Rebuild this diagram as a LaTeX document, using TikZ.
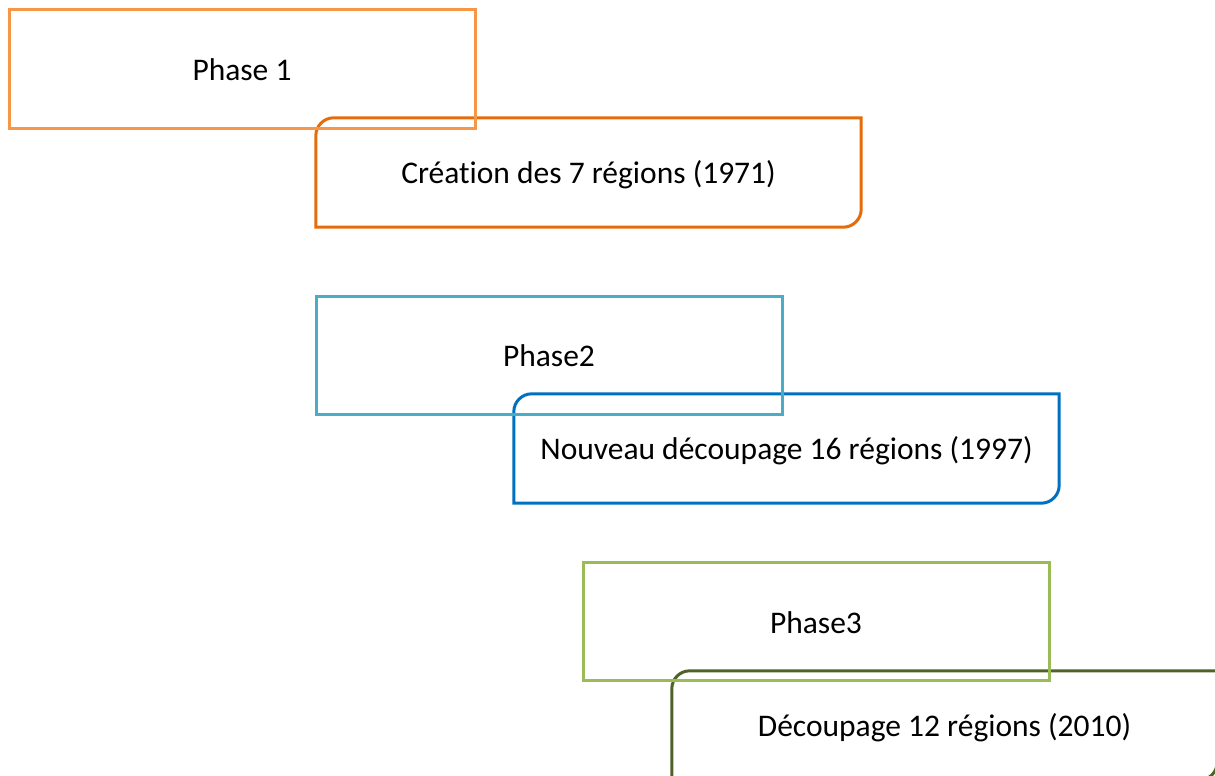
\documentclass[tikz,border=0pt]{standalone}
\usepackage{fontspec}
\setmainfont{Carlito}[Ligatures=NoCommon]
\definecolor{cPhaseA}{HTML}{F79646}
\definecolor{cBoxA}{HTML}{E46C0A}
\definecolor{cPhaseB}{HTML}{4BACC6}
\definecolor{cBoxB}{HTML}{0070C0}
\definecolor{cPhaseC}{HTML}{9BBB59}
\definecolor{cBoxC}{HTML}{4F6228}
\begin{document}
\begin{tikzpicture}[
  every node/.style={font=\fontsize{31.5}{36}\selectfont, text=black, inner sep=0pt},
  phasebox/.style={draw, line width=3pt, minimum width=466pt, minimum height=118pt},
  eventbox/.style={minimum width=545pt, minimum height=109pt},
  roundline/.style={line width=3pt}
]
\useasboundingbox (0pt,0pt) rectangle (1215pt,-776pt);
\begin{scope}
\clip (0pt,0pt) rectangle (1215pt,-776pt);
% event boxes (drawn first)
\node[eventbox] (e1) at (588.5pt,-172.5pt) {};
\node[eventbox] (e2) at (786.5pt,-448.5pt) {};
\node[eventbox] (e3) at (944.5pt,-725.5pt) {};
\node at ([yshift=-2pt]e1.center) {Création des 7 régions (1971)};
\node at ([yshift=-2pt]e2.center) {Nouveau découpage 16 régions (1997)};
\node at ([yshift=-2pt]e3.center) {Découpage 12 régions (2010)};
\foreach \n/\c in {e1/cBoxA,e2/cBoxB,e3/cBoxC}{
  \draw[roundline, draw=\c] (\n.south west) -- ([yshift=-18pt]\n.north west)
    arc[start angle=180,end angle=90,radius=18pt] -- (\n.north east)
    -- ([yshift=18pt]\n.south east) arc[start angle=0,end angle=-90,radius=18pt] -- cycle;
}
% phase boxes
\node[phasebox, draw=cPhaseA] (p1) at (242pt,-69pt) {};
\node[phasebox, draw=cPhaseB] (p2) at (549pt,-355pt) {};
\node[phasebox, draw=cPhaseC] (p3) at (816pt,-621.5pt) {};
\node at ([yshift=-1pt]p1.center) {Phase 1};
\node at ([yshift=-1pt]p2.center) {Phase2};
\node at ([yshift=-1pt]p3.center) {Phase3};
\end{scope}
\end{tikzpicture}
\end{document}
